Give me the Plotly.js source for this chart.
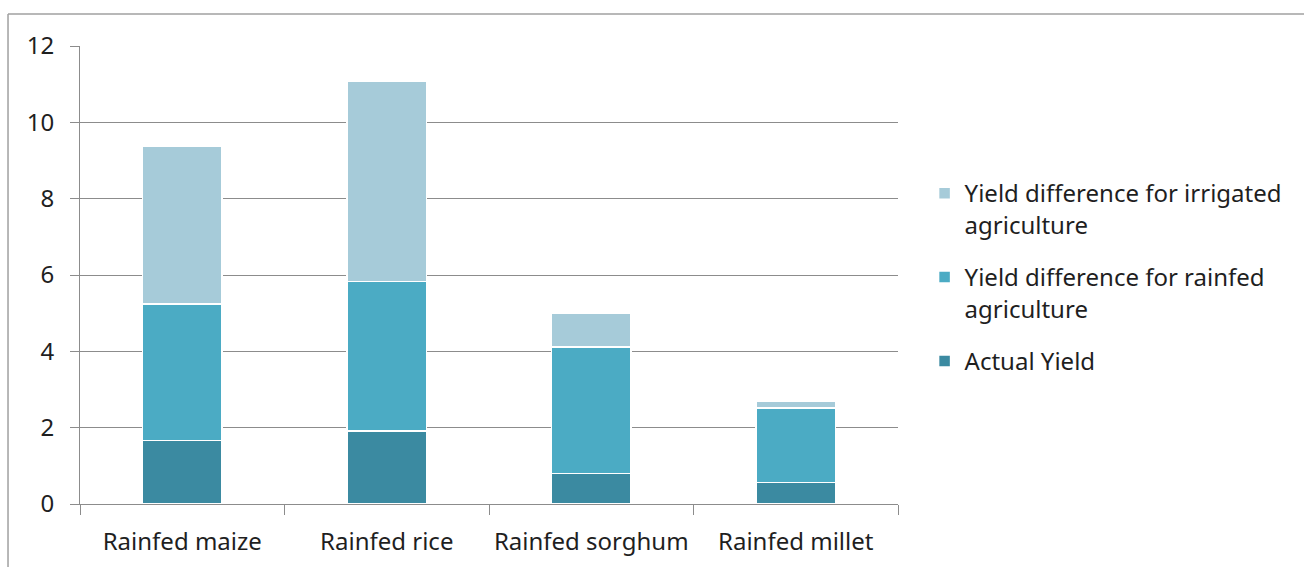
<!DOCTYPE html>
<html>
<head>
<meta charset="utf-8">
<script src="https://cdn.plot.ly/plotly-3.0.1.min.js"></script>
<style>
  html, body { margin: 0; padding: 0; background: #ffffff; }
  #chart { width: 1304px; height: 567px; }
</style>
</head>
<body>
<div id="chart"></div>
<script>
// Crop categories and yield components (stacked)
const crops = ["Rainfed maize", "Rainfed rice", "Rainfed sorghum", "Rainfed millet"];
const actualYield = [1.67, 1.91, 0.80, 0.56];
const rainfedGap = [3.57, 3.92, 3.32, 1.95];
const irrigatedGap = [4.13, 5.25, 0.87, 0.19];

const seriesNames = [
  "Actual Yield",
  "Yield difference for rainfed<br>agriculture",
  "Yield difference for irrigated<br>agriculture"
];
const seriesColors = ["#3b8aa1", "#4babc4", "#a6cbd9"];
const seriesValues = [actualYield, rainfedGap, irrigatedGap];
// each series gets its own legend box so the entries can be spaced freely
const legendIds = ["legend3", "legend2", "legend"];
const legendTops = [0.3603, 0.5437, 0.727];

const traces = seriesValues.map((vals, i) => ({
  type: "bar",
  x: crops,
  y: vals,
  name: seriesNames[i],
  legend: legendIds[i],
  marker: { color: seriesColors[i], line: { color: "#ffffff", width: 1.5 } },
  hoverinfo: "x+y+name"
}));

const fontFam = "'Noto Sans', 'Open Sans', sans-serif";
const textColor = "#1f1f1f";

function legendBox(top) {
  return {
    x: 1.0325, xanchor: "left",
    y: top, yanchor: "top",
    valign: "top",
    bgcolor: "rgba(0,0,0,0)",
    font: { family: fontFam, size: 24, color: textColor },
    itemwidth: 30
  };
}

const layout = {
  width: 1304,
  height: 567,
  barmode: "stack",
  bargap: 0.61,
  margin: { l: 80, r: 406, t: 46, b: 63, pad: 0 },
  paper_bgcolor: "#ffffff",
  plot_bgcolor: "#ffffff",
  font: { family: fontFam, size: 24, color: textColor },
  showlegend: true,
  xaxis: {
    type: "category",
    showline: true, linecolor: "#8c8c8c", linewidth: 1,
    ticks: "outside", tickson: "boundaries", ticklen: 10, tickcolor: "#8c8c8c",
    showgrid: false, zeroline: false,
    tickfont: { family: fontFam, size: 24, color: textColor },
    ticklabelstandoff: 16
  },
  yaxis: {
    range: [0, 12], dtick: 2, tick0: 0,
    showline: true, linecolor: "#8c8c8c", linewidth: 1,
    ticks: "outside", ticklen: 9, tickcolor: "#8c8c8c",
    showgrid: true, gridcolor: "#8c8c8c", gridwidth: 1,
    zeroline: false,
    tickfont: { family: fontFam, size: 24, color: textColor },
    ticklabelstandoff: 11
  },
  shapes: [
    { type: "line", xref: "paper", yref: "paper", x0: -0.088, x1: -0.088, y0: -0.2, y1: 1.0699,
      line: { color: "#a0a0a0", width: 1.5 } },
    { type: "line", xref: "paper", yref: "paper", x0: -0.088, x1: 1.6, y0: 1.0699, y1: 1.0699,
      line: { color: "#a0a0a0", width: 1.5 } }
  ]
};
legendIds.forEach((id, i) => { layout[id] = legendBox(legendTops[i]); });

Plotly.newPlot("chart", traces, layout, { displayModeBar: false, staticPlot: true });
</script>
</body>
</html>
